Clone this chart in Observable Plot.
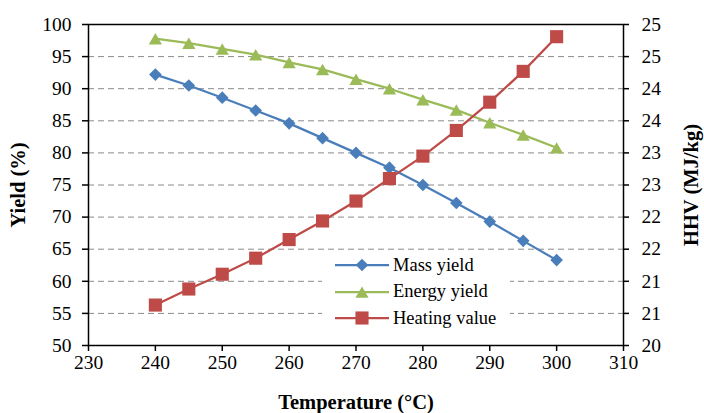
<!DOCTYPE html>
<html><head><meta charset="utf-8">
<script src="https://cdn.jsdelivr.net/npm/d3@7"></script>
<script src="https://cdn.jsdelivr.net/npm/@observablehq/plot@0.6"></script>
<style>
body{margin:0;background:#fff;}
#wrap{position:relative;width:704px;height:413px;font-family:"Liberation Serif","Times New Roman",serif;}
#wrap svg, #wrap svg text{font-family:"Liberation Serif","Times New Roman",serif !important;}
g[aria-label$="axis label"], g[aria-label$="axis label"] text{font-weight:bold;font-size:20.5px;}
#legend{position:absolute;left:322px;top:252px;width:188px;height:82px;background:#fff;}
.row{position:absolute;left:13px;height:26px;display:flex;align-items:center;font-size:18.5px;}
.row svg{margin-right:4px;}
</style>
</head><body>
<div id="wrap"></div>
<script>
const temps = [240,245,250,255,260,265,270,275,280,285,290,295,300];
const massYield = [92.2,90.5,88.6,86.6,84.6,82.3,80.0,77.7,75.0,72.2,69.3,66.3,63.3];
const energyYield = [97.8,97.1,96.2,95.3,94.1,93.0,91.5,90.0,88.3,86.7,84.7,82.8,80.8];
const heatingValue = [20.63,20.88,21.11,21.36,21.65,21.94,22.25,22.60,22.95,23.35,23.79,24.27,24.81];
const xTicks = [230,240,250,260,270,280,290,300,310];
const yTicks = [50,55,60,65,70,75,80,85,90,95,100];
const gridTicks = [55,60,65,70,75,80,85,90,95];
const hhvTicks = [20,20.5,21,21.5,22,22.5,23,23.5,24,24.5,25];
const hhvLabels = ["20","21","21","22","22","23","23","24","24","25","25"];
const seriesNames = ["Mass yield","Energy yield","Heating value"];
const colors = ["#4A7EBB","#9BBB59","#BE4B48"];

const yMin = 50, yMax = 100, hMin = 20, hMax = 25;
const hhvToY = h => yMin + (h - hMin) * (yMax - yMin) / (hMax - hMin);
const hhvLabelByY = new Map(hhvTicks.map((h,i)=>[hhvToY(h), hhvLabels[i]]));

const mass = temps.map((t,i)=>({t, v: massYield[i]}));
const energy = temps.map((t,i)=>({t, v: energyYield[i]}));
const heat = temps.map((t,i)=>({t, v: hhvToY(heatingValue[i])}));

const chart = Plot.plot({
  width:704, height:413,
  marginLeft:88, marginRight:81, marginTop:24, marginBottom:68,
  x:{domain:[230,310]},
  y:{domain:[yMin,yMax]},
  style:{fontFamily:"'Liberation Serif','Times New Roman',serif", fontSize:"19.5px", color:"black", background:"white", overflow:"visible"},
  marks:[
    Plot.ruleY(gridTicks, {stroke:"#8a8a8a", strokeDasharray:"6,4", strokeWidth:1}),
    Plot.line(mass, {x:"t", y:"v", stroke:colors[0], strokeWidth:2.25}),
    Plot.dot(mass, {x:"t", y:"v", symbol:"diamond2", r:5.7, fill:colors[0], stroke:"none"}),
    Plot.line(energy, {x:"t", y:"v", stroke:colors[1], strokeWidth:2.25}),
    Plot.dot(energy, {x:"t", y:"v", symbol:"triangle", r:4.9, dy:2, fill:colors[1], stroke:"none"}),
    Plot.line(heat, {x:"t", y:"v", stroke:colors[2], strokeWidth:2.25}),
    Plot.dot(heat, {x:"t", y:"v", symbol:"square", r:7.4, fill:colors[2], stroke:"none"}),
    Plot.frame({stroke:"black", strokeWidth:1.5}),
    Plot.axisX({ticks:xTicks, tickSize:6, tickPadding:4, strokeWidth:1.5, tickFormat:d=>String(d),
      label:"Temperature (°C)", labelAnchor:"center", labelArrow:"none", labelOffset:63}),
    Plot.axisY({ticks:yTicks, tickSize:6, tickPadding:11, strokeWidth:1.5, tickFormat:d=>String(d),
      label:"Yield (%)", labelAnchor:"center", labelArrow:"none", labelOffset:78}),
    Plot.axisY({anchor:"right", ticks:hhvTicks.map(hhvToY), tickSize:5, tickPadding:13, strokeWidth:1.5,
      tickFormat:d=>hhvLabelByY.get(d), label:"HHV (MJ/kg)", labelAnchor:"center", labelArrow:"none", labelOffset:74})
  ]
});
const wrap = document.getElementById("wrap");
wrap.appendChild(chart);

// legend
const legend = document.createElement("div");
legend.id = "legend";
const syms = [d3.symbolDiamond2, d3.symbolTriangle, d3.symbolSquare];
const sizes = [Math.PI*5.7*5.7, Math.PI*4.9*4.9, Math.PI*7.4*7.4];
const rowTops = [0, 26.6, 53.2];
seriesNames.forEach((name,i)=>{
  const row = document.createElement("div");
  row.className = "row";
  row.style.top = rowTops[i] + "px";
  const dy = i===1 ? 2 : 0;
  row.innerHTML = `<svg width="54" height="26"><line x1="0" x2="54" y1="13" y2="13" stroke="${colors[i]}" stroke-width="2.25"/>`+
    `<path transform="translate(27,${13+dy})" d="${d3.symbol(syms[i], sizes[i])()}" fill="${colors[i]}"/></svg><span>${name}</span>`;
  legend.appendChild(row);
});
wrap.appendChild(legend);
</script>
</body></html>
